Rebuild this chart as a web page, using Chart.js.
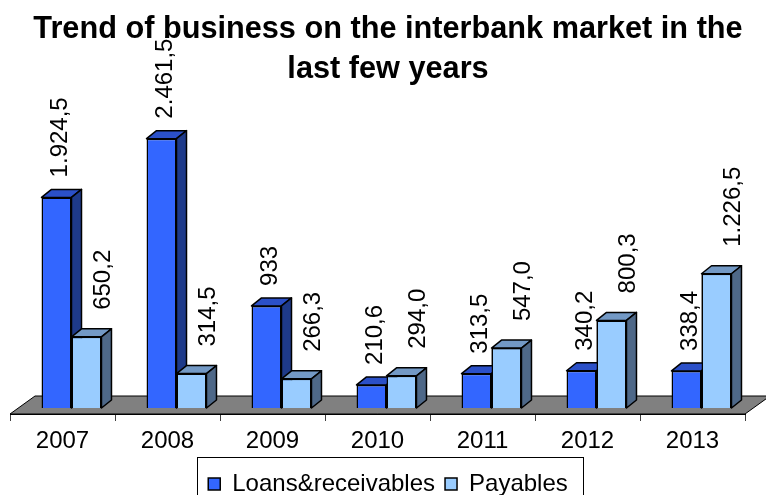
<!DOCTYPE html>
<html>
<head>
<meta charset="utf-8">
<title>Interbank market</title>
<script src="https://cdn.jsdelivr.net/npm/chart.js@4.4.0/dist/chart.umd.min.js"></script>
<style>
  html, body { margin: 0; padding: 0; background: #fff; }
  #wrap { width: 766px; height: 495px; }
</style>
</head>
<body>
<div id="wrap"><canvas id="interbankChart" width="766" height="495"></canvas></div>
<script>
const years = ['2007', '2008', '2009', '2010', '2011', '2012', '2013'];
const loansReceivables = [1924.5, 2461.5, 933, 210.6, 313.5, 340.2, 338.4];
const payables = [650.2, 314.5, 266.3, 294.0, 547.0, 800.3, 1226.5];

const FONT = '"Liberation Sans", Arial, Helvetica, sans-serif';

// fake 3d: bar depth, floor depth and how far the bars sit into the floor
const DEPTH_X = 10, DEPTH_Y = 8;
const FLOOR_X = 25, FLOOR_Y = 18;
const SHIFT_X = 9;

const faceColors = [
    { top: '#2B50C8', side: '#1E3A8A' },
    { top: '#7399C5', side: '#4E6888' }
];
// label offsets per series (gap above bar, sideways nudge)
const labelGap = [20, 27];
const labelNudge = [-3, 10];
// payables always show one decimal, loans drop a trailing ,0
const minDecimals = [0, 1];

function formatValue(v, minDec) {
    let s = v.toFixed(1);
    if (minDec === 0 && s.endsWith('.0')) s = s.slice(0, -2);
    const parts = s.split('.');
    const intPart = parts[0].replace(/\B(?=(\d{3})+(?!\d))/g, '.');
    return parts[1] ? intPart + ',' + parts[1] : intPart;
}

function drawFaces(ctx, bars, colors) {
    ctx.save();
    ctx.lineWidth = 1.5;
    ctx.strokeStyle = '#000';
    ctx.lineJoin = 'round';
    bars.forEach(bar => {
        const { x, y, width, base } = bar.getProps(['x', 'y', 'width', 'base'], true);
        const l = x - width / 2, r = x + width / 2;
        // top face
        ctx.beginPath();
        ctx.moveTo(l, y);
        ctx.lineTo(l + DEPTH_X, y - DEPTH_Y);
        ctx.lineTo(r + DEPTH_X, y - DEPTH_Y);
        ctx.lineTo(r, y);
        ctx.closePath();
        ctx.fillStyle = colors.top;
        ctx.fill();
        ctx.stroke();
        // side face
        ctx.beginPath();
        ctx.moveTo(r, y);
        ctx.lineTo(r + DEPTH_X, y - DEPTH_Y);
        ctx.lineTo(r + DEPTH_X, base - DEPTH_Y);
        ctx.lineTo(r, base);
        ctx.closePath();
        ctx.fillStyle = colors.side;
        ctx.fill();
        ctx.stroke();
    });
    ctx.restore();
}

const bars3d = {
    id: 'bars3d',
    beforeDatasetsDraw(chart) {
        const { ctx, chartArea: a } = chart;
        ctx.save();
        ctx.beginPath();
        ctx.moveTo(a.left, a.bottom);
        ctx.lineTo(a.right, a.bottom);
        ctx.lineTo(a.right + FLOOR_X, a.bottom - FLOOR_Y);
        ctx.lineTo(a.left + FLOOR_X, a.bottom - FLOOR_Y);
        ctx.closePath();
        ctx.fillStyle = '#808080';
        ctx.fill();
        ctx.strokeStyle = '#000';
        ctx.lineWidth = 1;
        ctx.stroke();
        ctx.restore();
        // bars stand in the middle of the floor depth
        ctx.save();
        ctx.translate(SHIFT_X, 0);
    },
    afterDatasetsDraw(chart) {
        const { ctx } = chart;
        const loans = chart.getDatasetMeta(0).data;
        const pays = chart.getDatasetMeta(1).data;
        // loans faces first, then payables fronts again so they sit in front
        drawFaces(ctx, loans, faceColors[0]);
        pays.forEach(bar => bar.draw(ctx));
        drawFaces(ctx, pays, faceColors[1]);
        ctx.restore();

        const size = 24;
        chart.data.datasets.forEach((ds, i) => {
            const meta = chart.getDatasetMeta(i);
            meta.data.forEach((bar, j) => {
                const text = formatValue(ds.data[j], minDecimals[i]);
                const cx = bar.x + SHIFT_X + DEPTH_X / 2 + labelNudge[i];
                ctx.save();
                ctx.translate(cx + size * 0.358, bar.y - labelGap[i]);
                ctx.rotate(-Math.PI / 2);
                ctx.font = size + 'px ' + FONT;
                ctx.fillStyle = '#000';
                ctx.textAlign = 'left';
                ctx.textBaseline = 'alphabetic';
                ctx.fillText(text, 0, 0);
                ctx.restore();
            });
        });
    },
    afterDraw(chart) {
        // frame around the legend
        const hb = chart.legend.legendHitBoxes;
        if (!hb || !hb.length) return;
        const first = hb[0], last = hb[hb.length - 1];
        const left = Math.round(first.left - 11) + 0.5;
        const right = Math.round(last.left + last.width + 15) + 0.5;
        const top = Math.round(first.top + first.height / 2 - 27) + 0.5;
        const { ctx } = chart;
        ctx.save();
        ctx.strokeStyle = '#000';
        ctx.lineWidth = 1;
        ctx.strokeRect(left, top, right - left, 60);
        ctx.restore();
    }
};

const ctx = document.getElementById('interbankChart').getContext('2d');
new Chart(ctx, {
    type: 'bar',
    data: {
        labels: years,
        datasets: [{
            label: 'Loans&receivables',
            data: loansReceivables,
            backgroundColor: '#3366FF',
            borderColor: '#000',
            borderWidth: 1.5
        }, {
            label: 'Payables',
            data: payables,
            backgroundColor: '#99CCFF',
            borderColor: '#000',
            borderWidth: 1.5
        }]
    },
    options: {
        responsive: false,
        animation: false,
        categoryPercentage: 0.571,
        barPercentage: 1.0,
        layout: { padding: { left: 10, right: 0, top: 0, bottom: 0 } },
        scales: {
            x: {
                grid: {
                    offset: true,
                    drawOnChartArea: false,
                    drawTicks: true,
                    tickLength: 7,
                    color: '#404040'
                },
                border: { display: true, color: '#000', width: 1 },
                ticks: {
                    color: '#000',
                    padding: -3,
                    font: { family: FONT, size: 24, lineHeight: '47px' }
                }
            },
            y: {
                position: 'right',
                min: -55,
                max: 2915,
                ticks: { display: false },
                grid: { display: false, drawTicks: false },
                border: { display: false },
                afterFit(scale) { scale.width = 21; }
            }
        },
        plugins: {
            title: {
                display: true,
                text: ['Trend of business on the interbank market in the', 'last few years'],
                color: '#000',
                font: { family: FONT, size: 30.7, weight: 'bold', lineHeight: '39.5px' },
                padding: { top: 10, bottom: 0 }
            },
            legend: {
                position: 'bottom',
                maxHeight: 33,
                labels: {
                    boxWidth: 12,
                    boxHeight: 12,
                    padding: 10,
                    color: '#000',
                    font: { family: FONT, size: 24 }
                }
            },
            tooltip: { enabled: false }
        }
    },
    plugins: [bars3d]
});
</script>
</body>
</html>
